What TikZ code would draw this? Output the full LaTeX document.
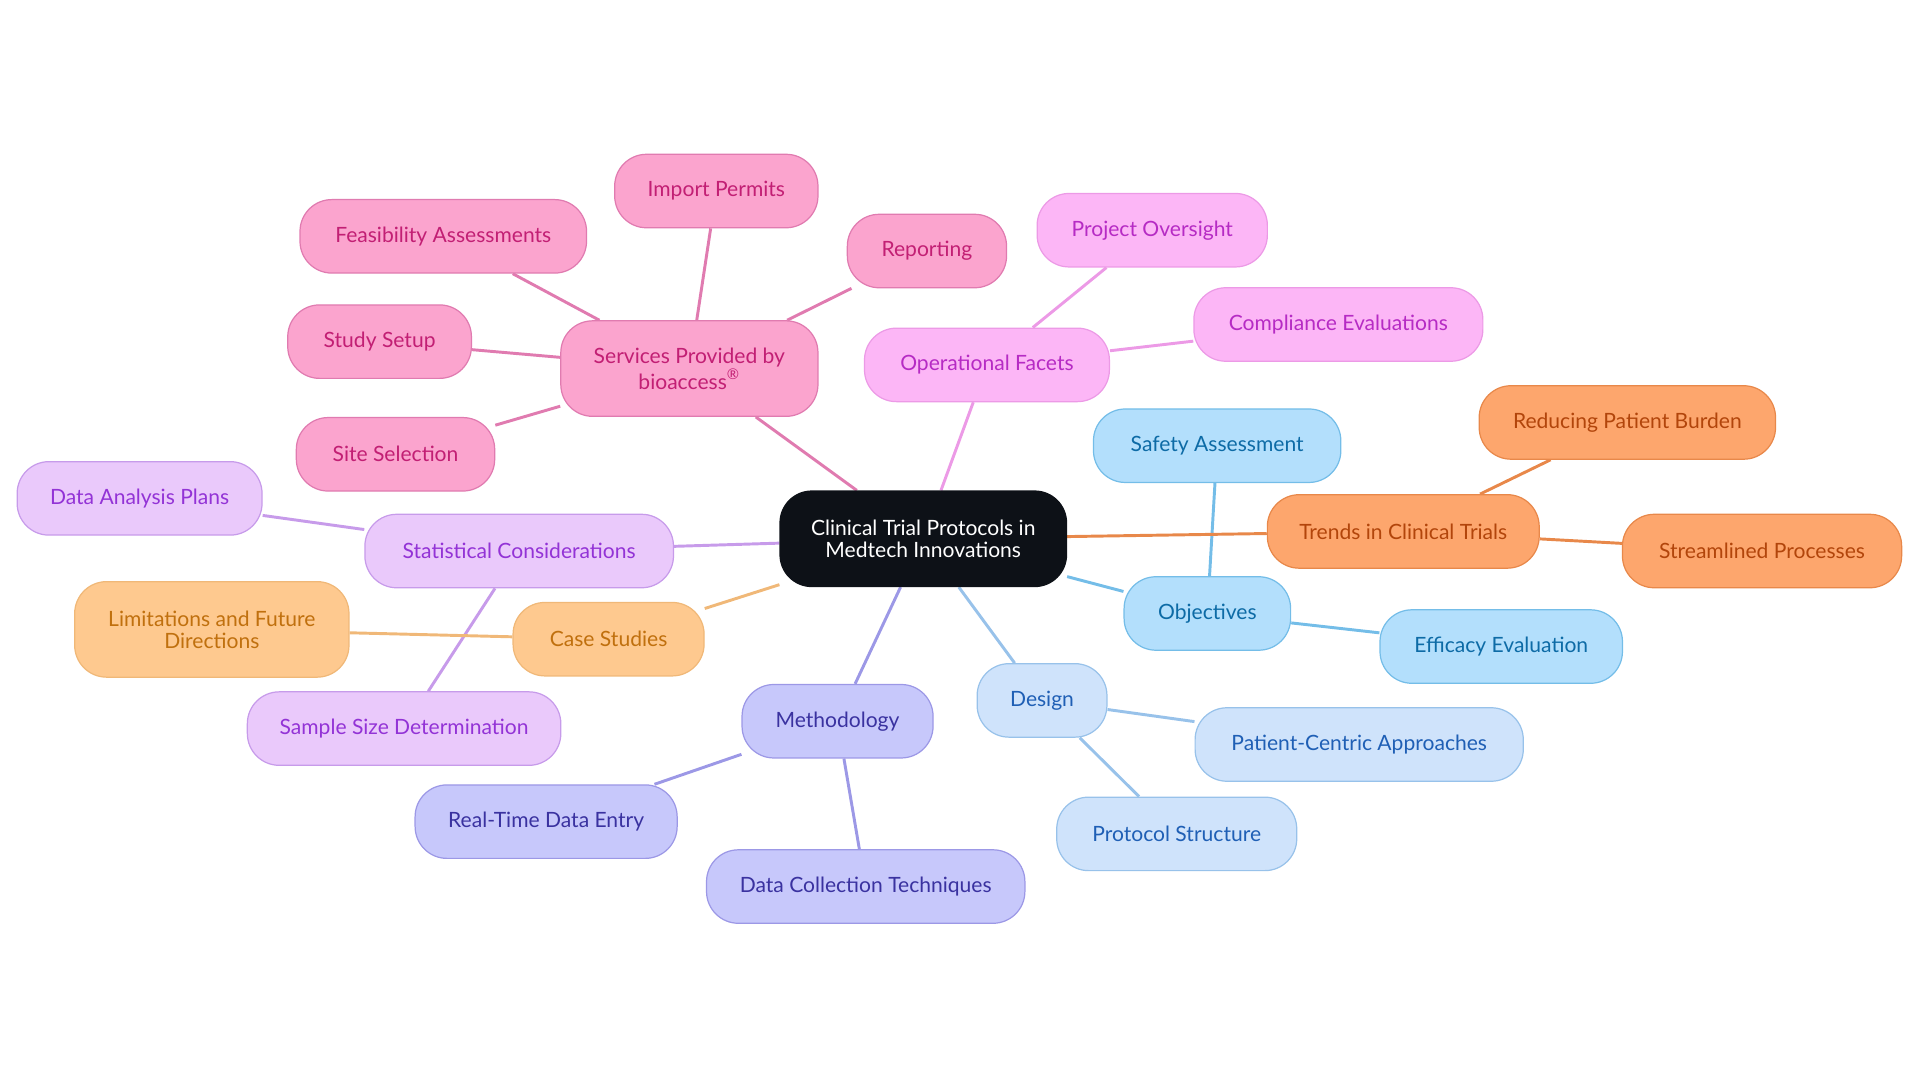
\documentclass[tikz,border=0pt]{standalone}
\usepackage{fontspec}
\setmainfont{Lato}
\usetikzlibrary{backgrounds}
\definecolor{pinkF}{HTML}{FBA4CE}\definecolor{pinkT}{HTML}{C21F74}\definecolor{pinkL}{HTML}{E07BB0}
\definecolor{magF}{HTML}{FCB6F6}\definecolor{magT}{HTML}{B62BC4}\definecolor{magL}{HTML}{EC9AE6}
\definecolor{skyF}{HTML}{B3DFFC}\definecolor{skyT}{HTML}{0D6BA6}\definecolor{skyL}{HTML}{74BDE8}
\definecolor{oraF}{HTML}{FDA66D}\definecolor{oraT}{HTML}{B2450B}\definecolor{oraL}{HTML}{E8884A}
\definecolor{bluF}{HTML}{CFE3FB}\definecolor{bluT}{HTML}{1F5FB5}\definecolor{bluL}{HTML}{98C2EA}
\definecolor{lavF}{HTML}{C7C8FB}\definecolor{lavT}{HTML}{3A32A0}\definecolor{lavL}{HTML}{9C98E6}
\definecolor{lilF}{HTML}{EAC9FB}\definecolor{lilT}{HTML}{9333D6}\definecolor{lilL}{HTML}{C79BEA}
\definecolor{peaF}{HTML}{FEC98F}\definecolor{peaT}{HTML}{C0700E}\definecolor{peaL}{HTML}{F0B878}
\definecolor{rootF}{HTML}{0D1117}
\tikzset{
  box/.style={rounded corners=13pt, minimum height=30pt, inner sep=2pt, align=center, font=\fontsize{8.6}{9}\selectfont, line width=0.5pt},
  pk/.style={box, fill=pinkF, draw=pinkL, text=pinkT},
  mg/.style={box, fill=magF, draw=magL, text=magT},
  sk/.style={box, fill=skyF, draw=skyL, text=skyT},
  og/.style={box, fill=oraF, draw=oraL, text=oraT},
  bl/.style={box, fill=bluF, draw=bluL, text=bluT},
  lv/.style={box, fill=lavF, draw=lavL, text=lavT},
  li/.style={box, fill=lilF, draw=lilL, text=lilT},
  pe/.style={box, fill=peaF, draw=peaL, text=peaT},
  link/.style={line width=1.2pt}
}
\begin{document}
\begin{tikzpicture}[x=0.5pt, y=-0.5pt]
    \useasboundingbox (0,0) rectangle (1568,884);

    % Root
    \node[box, fill=rootF, draw=rootF, text=white, minimum width=117pt, minimum height=39pt] (root) at (754,440) {Clinical Trial Protocols in\\Medtech Innovations};

    % Services
    \node[pk, minimum width=105pt, minimum height=39pt] (serv) at (563,301) {Services Provided by\\bioaccess\textsuperscript{®}};
    \node[pk, minimum width=83pt] (imp) at (585,156) {Import Permits};
    \node[pk, minimum width=117pt] (feas) at (362,193) {Feasibility Assessments};
    \node[pk, minimum width=65pt] (rep) at (757,205) {Reporting};
    \node[pk, minimum width=75pt] (setup) at (310,279) {Study Setup};
    \node[pk, minimum width=81pt] (site) at (323,371) {Site Selection};

    % Operational
    \node[mg, minimum width=100pt] (oper) at (806,298) {Operational Facets};
    \node[mg, minimum width=94pt] (proj) at (941,188) {Project Oversight};
    \node[mg, minimum width=118pt] (comp) at (1093,265) {Compliance Evaluations};

    % Objectives
    \node[sk, minimum width=68pt] (obj) at (986,501) {Objectives};
    \node[sk, minimum width=101pt] (safe) at (994,364) {Safety Assessment};
    \node[sk, minimum width=99pt] (eff) at (1226,528) {Efficacy Evaluation};

    % Trends
    \node[og, minimum width=111pt] (trend) at (1146,434) {Trends in Clinical Trials};
    \node[og, minimum width=121pt] (burden) at (1329,345) {Reducing Patient Burden};
    \node[og, minimum width=114pt] (stream) at (1439,450) {Streamlined Processes};

    % Design
    \node[bl, minimum width=53pt] (design) at (851,572) {Design};
    \node[bl, minimum width=134pt] (pcent) at (1110,608) {Patient-Centric Approaches};
    \node[bl, minimum width=98pt] (pstruct) at (961,681) {Protocol Structure};

    % Methodology
    \node[lv, minimum width=78pt] (meth) at (684,589) {Methodology};
    \node[lv, minimum width=107pt] (rtde) at (446,671) {Real-Time Data Entry};
    \node[lv, minimum width=130pt] (dct) at (707,724) {Data Collection Techniques};

    % Statistics
    \node[li, minimum width=126pt] (stat) at (424,450) {Statistical Considerations};
    \node[li, minimum width=100pt] (dap) at (114,407) {Data Analysis Plans};
    \node[li, minimum width=128pt] (ssd) at (330,595) {Sample Size Determination};

    % Case studies
    \node[pe, minimum width=78pt] (case) at (497,522) {Case Studies};
    \node[pe, minimum width=112pt, minimum height=39pt] (lim) at (173,514) {Limitations and Future\\Directions};

    % Lines (behind nodes)
    \begin{pgfonlayer}{background}
    \draw[link, pinkL] (root) -- (serv);
    \foreach \x in {imp, feas, rep, setup, site}
        \draw[link, pinkL] (serv) -- (\x);
    \draw[link, magL] (root) -- (oper);
    \foreach \x in {proj, comp}
        \draw[link, magL] (oper) -- (\x);
    \draw[link, skyL] (root) -- (obj);
    \foreach \x in {safe, eff}
        \draw[link, skyL] (obj) -- (\x);
    \draw[link, oraL] (root) -- (trend);
    \foreach \x in {burden, stream}
        \draw[link, oraL] (trend) -- (\x);
    \draw[link, bluL] (root) -- (design);
    \foreach \x in {pcent, pstruct}
        \draw[link, bluL] (design) -- (\x);
    \draw[link, lavL] (root) -- (meth);
    \foreach \x in {rtde, dct}
        \draw[link, lavL] (meth) -- (\x);
    \draw[link, lilL] (root) -- (stat);
    \foreach \x in {dap, ssd}
        \draw[link, lilL] (stat) -- (\x);
    \draw[link, peaL] (root) -- (case);
    \draw[link, peaL] (case) -- (lim);
    \end{pgfonlayer}

\end{tikzpicture}
\end{document}
